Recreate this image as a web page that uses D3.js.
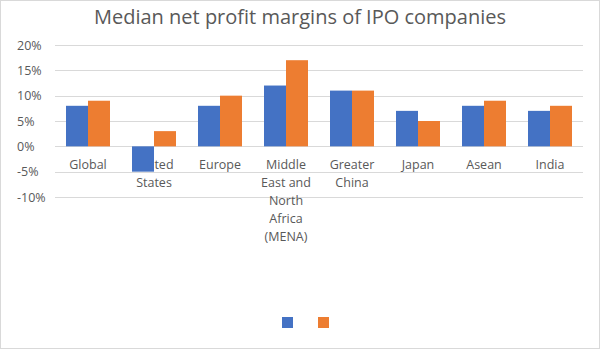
<!doctype html>
<html>
<head>
<meta charset="utf-8">
<script src="https://cdnjs.cloudflare.com/ajax/libs/d3/7.8.5/d3.min.js"></script>
<style>
  body { margin: 0; background: #fff; }
  text { font-family: "Open Sans", "Noto Sans", sans-serif; fill: #595959; }
</style>
</head>
<body>
<script>
// category names, each split into the lines shown under the axis
const categories = [
  ["Global"],
  ["United", "States"],
  ["Europe"],
  ["Middle", "East and", "North", "Africa", "(MENA)"],
  ["Greater", "China"],
  ["Japan"],
  ["Asean"],
  ["India"]
];
const seriesA = [8, -5, 8, 12, 11, 7, 8, 7];
const seriesB = [9, 3, 10, 17, 11, 5, 9, 8];
const yTicks = [-10, -5, 0, 5, 10, 15, 20];
const colors = ["#4472C4", "#ED7D31"];

const width = 600, height = 349;
const margin = {left: 55, right: 17, top: 45, bottom: 152};

const svg = d3.select("body").append("svg")
  .attr("width", width)
  .attr("height", height);

svg.append("rect")
  .attr("x", 0.5).attr("y", 0.5)
  .attr("width", width - 1).attr("height", height - 1)
  .attr("fill", "#fff").attr("stroke", "#d9d9d9");

svg.append("text")
  .attr("x", width / 2).attr("y", 24)
  .attr("text-anchor", "middle")
  .style("font-size", "20px")
  .text("Median net profit margins of IPO companies");

const x = d3.scaleBand()
  .domain(d3.range(categories.length))
  .range([margin.left, width - margin.right]);

const y = d3.scaleLinear()
  .domain([-10, 20])
  .range([height - margin.bottom, margin.top]);

const inner = d3.scaleBand()
  .domain([0, 1])
  .range([0, x.bandwidth()])
  .paddingOuter(0.5)
  .paddingInner(0);

// gridlines
svg.append("g")
  .selectAll("line")
  .data(yTicks)
  .join("line")
  .attr("x1", margin.left).attr("x2", width - margin.right)
  .attr("y1", d => Math.round(y(d)) + 0.5)
  .attr("y2", d => Math.round(y(d)) + 0.5)
  .attr("stroke", "#d9d9d9");

// y tick labels
svg.append("g")
  .selectAll("text")
  .data(yTicks)
  .join("text")
  .attr("x", 17)
  .attr("y", d => y(d) + 4.5)
  .style("font-size", "12.5px")
  .text(d => d + "%");

// category labels drawn before bars so negative bars sit on top
const labels = svg.append("g")
  .selectAll("text")
  .data(categories)
  .join("text")
  .attr("text-anchor", "middle")
  .style("font-size", "12.5px")
  .attr("transform", (d, i) => `translate(${x(i) + x.bandwidth() / 2},${y(0) + 23})`);

labels.selectAll("tspan")
  .data(d => d)
  .join("tspan")
  .attr("x", 0)
  .attr("y", (d, j) => j * 18)
  .text(d => d);

// bars
const series = [seriesA, seriesB];
series.forEach((vals, s) => {
  svg.append("g")
    .selectAll("rect")
    .data(vals)
    .join("rect")
    .attr("x", (d, i) => x(i) + inner(s))
    .attr("width", inner.bandwidth())
    .attr("y", d => y(Math.max(0, d)))
    .attr("height", d => Math.abs(y(d) - y(0)))
    .attr("fill", colors[s]);
});

// legend (entries without text)
svg.append("g")
  .selectAll("rect")
  .data(colors)
  .join("rect")
  .attr("x", (d, i) => 282 + i * 36)
  .attr("y", 317)
  .attr("width", 11)
  .attr("height", 11)
  .attr("fill", d => d);
</script>
</body>
</html>
